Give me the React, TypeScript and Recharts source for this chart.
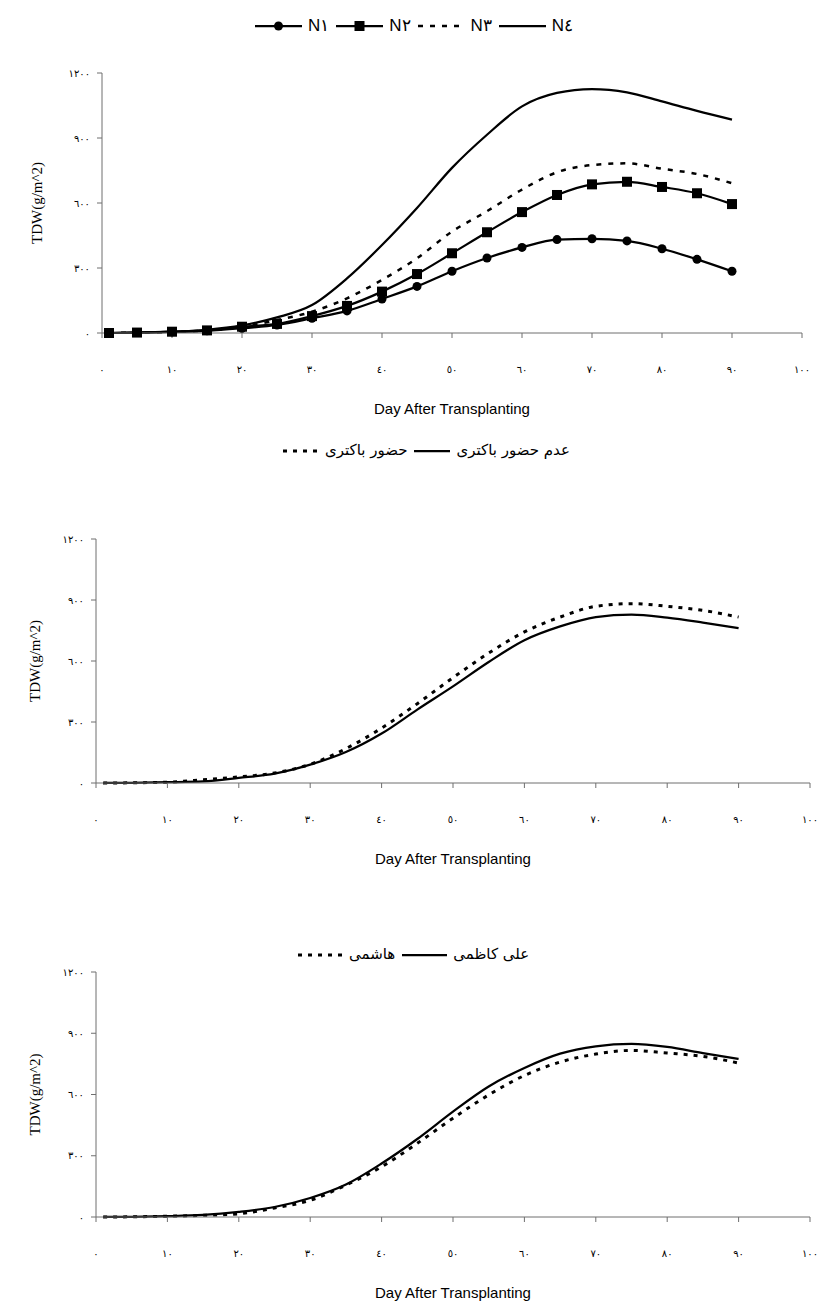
import React from 'react';
import { LineChart, Line, XAxis, YAxis } from 'recharts';

// days after transplanting (sampling dates)
const days = [1, 5, 10, 15, 20, 25, 30, 35, 40, 45, 50, 55, 60, 65, 70, 75, 80, 85, 90];

// chart 1 - nitrogen levels
const n1 = [0, 2, 5, 10, 22, 37, 68, 102, 157, 215, 285, 346, 395, 431, 435, 425, 389, 340, 285];
const n2 = [0, 2, 6, 12, 29, 42, 78, 125, 191, 272, 368, 465, 558, 637, 686, 698, 674, 645, 595];
const n3 = [0, 2, 5, 12, 28, 60, 98, 160, 245, 345, 468, 562, 662, 742, 775, 783, 758, 734, 691];
const n4 = [0, 2, 6, 15, 35, 72, 129, 252, 406, 577, 762, 915, 1046, 1108, 1126, 1111, 1069, 1025, 985];

// chart 2 - bacteria
const withBacteria = [0, 1, 4, 16, 30, 49, 92, 169, 270, 390, 518, 639, 743, 816, 869, 882, 869, 849, 816];
const noBacteria = [0, 1, 4, 8, 25, 46, 90, 152, 243, 361, 475, 595, 702, 770, 816, 828, 813, 789, 762];

// chart 3 - cultivars
const hashemi = [0, 1, 4, 8, 16, 44, 82, 156, 246, 361, 484, 598, 693, 759, 798, 816, 803, 787, 754];
const aliKazemi = [0, 1, 4, 10, 25, 49, 93, 159, 262, 382, 516, 639, 730, 800, 836, 848, 833, 803, 774];

const xTicks = [0, 10, 20, 30, 40, 50, 60, 70, 80, 90, 100];
const yTicks = [0, 300, 600, 900, 1200];

const FA = '٠١٢٣٤٥٦٧٨٩';
const fa = (v: number) => String(v).split('').map((c) => FA[Number(c)]).join('');

const AXIS = '#6f6f6f';
const tickFont = { fill: '#000', fontSize: 10, fontFamily: 'DejaVu Sans' };

type Series = { key: string; name: string; values: number[]; dash?: string; width: number; marker?: 'circle' | 'square' };

const chart1: Series[] = [
  { key: 'n1', name: 'N١', values: n1, width: 2.25, marker: 'circle' },
  { key: 'n2', name: 'N٢', values: n2, width: 2.25, marker: 'square' },
  { key: 'n3', name: 'N٣', values: n3, width: 2.5, dash: '5 7' },
  { key: 'n4', name: 'N٤', values: n4, width: 2.25 },
];
const chart2: Series[] = [
  { key: 'b1', name: 'حضور باکتری', values: withBacteria, width: 3, dash: '4 6' },
  { key: 'b0', name: 'عدم حضور باکتری', values: noBacteria, width: 2.25 },
];
const chart3: Series[] = [
  { key: 'h', name: 'هاشمی', values: hashemi, width: 3, dash: '4 6' },
  { key: 'k', name: 'علی کاظمی', values: aliKazemi, width: 2.25 },
];

const SquareDot = (props: any) => {
  const { cx, cy } = props;
  if (cx == null || cy == null) return null;
  return <rect x={cx - 5} y={cy - 5} width={10} height={10} fill="#000" />;
};

const LegendSymbol = ({ s, w }: { s: Series; w: number }) => (
  <svg width={w} height={14} style={{ display: 'block' }}>
    <line x1={0} y1={7} x2={w} y2={7} stroke="#000" strokeWidth={s.width} strokeDasharray={s.dash} />
    {s.marker === 'circle' && <circle cx={w / 2} cy={7} r={4.5} fill="#000" />}
    {s.marker === 'square' && <rect x={w / 2 - 5} y={2} width={10} height={10} fill="#000" />}
  </svg>
);

const LegendRow = ({ series, left, top, font, size, symW }: any) => (
  <div style={{ position: 'absolute', left, top, display: 'flex', alignItems: 'center', gap: 7, whiteSpace: 'nowrap' }}>
    {series.map((s: Series) => (
      <div key={s.key} style={{ display: 'flex', alignItems: 'center', gap: 6 }}>
        <LegendSymbol s={s} w={symW} />
        <span style={{ fontFamily: font, fontSize: size, color: '#000', lineHeight: 1 }}>{s.name}</span>
      </div>
    ))}
  </div>
);

type PanelProps = { series: Series[]; plotTop: number; plotBottom: number; left: number; right: number; labelX: number };

const Panel = ({ series, plotTop, plotBottom, left, right, labelX }: PanelProps) => {
  const data = days.map((d, i) => {
    const row: any = { day: d };
    series.forEach((s) => (row[s.key] = s.values[i]));
    return row;
  });
  const top = 20;
  const xH = 85;
  const height = top + (plotBottom - plotTop) + xH;
  return (
    <div style={{ position: 'absolute', left: 0, top: plotTop - top }}>
      <LineChart width={829} height={height} data={data} margin={{ top, right: 829 - right, left: 0, bottom: 0 }}>
        <XAxis
          type="number"
          dataKey="day"
          domain={[0, 100]}
          ticks={xTicks}
          tickFormatter={fa}
          stroke={AXIS}
          tickSize={5}
          tickMargin={28}
          tick={tickFont}
          height={xH}
          label={{ value: 'Day After Transplanting', position: 'insideBottom', offset: 4, style: { fontFamily: 'Liberation Sans Narrow, Liberation Sans', fontSize: 15, fill: '#000' } }}
        />
        <YAxis
          type="number"
          domain={[0, 1200]}
          ticks={yTicks}
          tickFormatter={fa}
          stroke={AXIS}
          tickSize={5}
          tickMargin={7}
          tick={tickFont}
          width={left}
          label={{ value: 'TDW(g/m^2)', angle: -90, position: 'insideLeft', offset: labelX, style: { textAnchor: 'middle', fontFamily: 'Liberation Serif', fontSize: 15, fill: '#000' } }}
        />
        {series.map((s) => (
          <Line
            key={s.key}
            type="monotone"
            dataKey={s.key}
            name={s.name}
            stroke="#000"
            strokeWidth={s.width}
            strokeDasharray={s.dash}
            dot={s.marker === 'circle' ? { r: 4.5, fill: '#000', stroke: '#000', strokeWidth: 0 } : s.marker === 'square' ? <SquareDot /> : false}
            activeDot={false}
            isAnimationActive={false}
          />
        ))}
      </LineChart>
    </div>
  );
};

export default function App() {
  return (
    <div style={{ position: 'absolute', left: 0, top: 0, width: 829, height: 1302, background: '#fff', overflow: 'hidden' }}>
      <LegendRow series={chart1} left={255} top={17} font="Liberation Sans Narrow, Liberation Sans" size={17} symW={47} />
      <Panel series={chart1} plotTop={73} plotBottom={333} left={102} right={802} labelX={37} />

      <LegendRow series={chart2} left={283} top={443} font="DejaVu Sans" size={15} symW={36} />
      <Panel series={chart2} plotTop={539} plotBottom={783} left={96} right={810} labelX={35} />

      <LegendRow series={chart3} left={298} top={947} font="DejaVu Sans" size={15} symW={45} />
      <Panel series={chart3} plotTop={972} plotBottom={1217} left={96} right={810} labelX={35} />
    </div>
  );
}
